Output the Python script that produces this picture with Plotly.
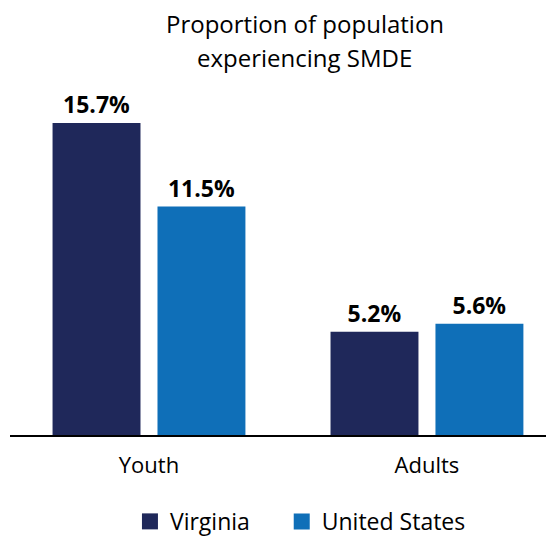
import plotly.graph_objects as go

categories = ["Youth", "Adults"]
virginia = [15.7, 5.2]
united_states = [11.5, 5.6]
series_names = ["Virginia", "United States"]
title_lines = ["Proportion of population", "experiencing SMDE"]

navy = "#1F285A"
blue = "#0F6FB8"
font_family = "'Open Sans', 'Noto Sans', sans-serif"

fig = go.Figure()
for name, vals, col in [(series_names[0], virginia, navy), (series_names[1], united_states, blue)]:
    fig.add_trace(go.Bar(
        name=name, x=categories, y=vals, marker_color=col, marker_line_width=0,
        text=[f"{v:.1f}%" for v in vals], textposition="outside",
        textfont=dict(family=font_family, size=23, color="black", weight="bold"),
        cliponaxis=False, showlegend=False,
    ))
# legend entries with larger square swatches, one legend each for exact placement
for name, col, lg in [(series_names[0], navy, "legend"), (series_names[1], blue, "legend2")]:
    fig.add_trace(go.Scatter(
        name=name, x=[None], y=[None], mode="markers",
        marker=dict(symbol="square", size=16, color=col), showlegend=True, legend=lg,
    ))

for i, (line, yy) in enumerate(zip(title_lines, [1.227, 1.128])):
    fig.add_annotation(text=line, xref="paper", yref="paper", x=0.542, y=yy,
                       xanchor="center", yanchor="middle", showarrow=False,
                       font=dict(size=24, family=font_family, color="black"))

legend_common = dict(orientation="h", y=-0.258, yanchor="middle", xanchor="left",
                     font=dict(size=23, family=font_family, color="black"),
                     itemwidth=30, bgcolor="rgba(0,0,0,0)")

# page body has an 8px margin, so the figure is sized to fit the window from (8, 8)
fig.update_layout(
    width=546, height=529,
    margin=dict(l=2, r=0, t=92, b=102, autoexpand=False),
    paper_bgcolor="white", plot_bgcolor="white",
    barmode="group", bargap=0.245, bargroupgap=0.162,
    font=dict(family=font_family, color="black"),
    showlegend=True,
    legend=dict(x=0.2205, **legend_common),
    legend2=dict(x=0.4995, **legend_common),
    xaxis=dict(range=[-0.5, 1.457], showline=True, linecolor="black", linewidth=2,
               ticks="", tickfont=dict(size=22, family=font_family, color="black"),
               ticklabelstandoff=10, showgrid=False, zeroline=False),
    yaxis=dict(range=[0, 16.86], visible=False, showgrid=False, zeroline=False),
)

fig.write_html("out.html")
